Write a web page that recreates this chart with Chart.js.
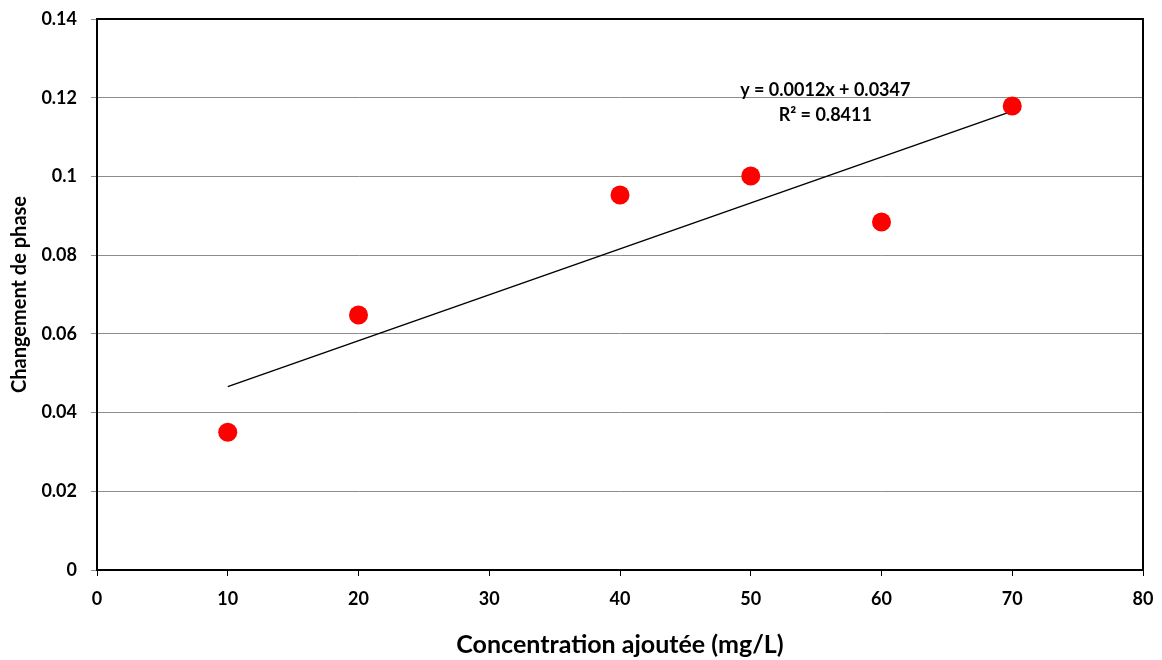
<!DOCTYPE html>
<html>
<head>
<meta charset="utf-8">
<script src="https://cdn.jsdelivr.net/npm/chart.js@4"></script>
<style>
html,body{margin:0;padding:0;background:#fff;}
#wrap{width:1162px;height:660px;position:relative;}
</style>
</head>
<body>
<div id="wrap"><canvas id="c" width="1162" height="660"></canvas></div>
<script>
const concentrations = [10, 20, 40, 50, 60, 70];
const phaseChange = [0.0350, 0.0648, 0.0953, 0.1001, 0.0884, 0.1179];
const trendX = [10, 70];
const trendY = [0.0466, 0.1166];
const equationText = "y = 0.0012x + 0.0347";
const r2Text = "R² = 0.8411";
const xTitle = "Concentration ajoutée (mg/L)";
const yTitle = "Changement de phase";

const FONT = "Lato, 'Liberation Sans', sans-serif";

const framePlugin = {
  id: 'frame',
  afterDraw(chart) {
    const {ctx, chartArea: a, scales} = chart;
    ctx.save();
    ctx.strokeStyle = '#000';
    ctx.lineWidth = 2;
    ctx.beginPath();
    ctx.moveTo(a.left, a.top);
    ctx.lineTo(a.right, a.top);
    ctx.lineTo(a.right, a.bottom);
    ctx.stroke();
    ctx.fillStyle = '#000';
    ctx.font = "bold 18px " + FONT;
    ctx.textAlign = 'center';
    ctx.textBaseline = 'middle';
    const tx = scales.x.getPixelForValue(55.7);
    ctx.fillText(equationText, tx, scales.y.getPixelForValue(0.1218));
    ctx.fillText(r2Text, tx, scales.y.getPixelForValue(0.1155));
    ctx.restore();
  }
};

new Chart(document.getElementById('c'), {
  type: 'scatter',
  data: {
    datasets: [
      {
        label: 'trend',
        data: trendX.map((x, i) => ({x, y: trendY[i]})),
        showLine: true,
        borderColor: '#000',
        borderWidth: 1.5,
        pointRadius: 0,
        order: 2
      },
      {
        label: 'data',
        data: concentrations.map((x, i) => ({x, y: phaseChange[i]})),
        backgroundColor: '#ff0000',
        borderColor: '#ff0000',
        borderWidth: 0,
        pointRadius: 9.5,
        order: 1
      }
    ]
  },
  options: {
    responsive: false,
    animation: false,
    layout: {padding: {top: 19, right: 19, left: 0, bottom: 0}},
    plugins: {legend: {display: false}, tooltip: {enabled: false}},
    scales: {
      x: {
        type: 'linear',
        min: 0, max: 80,
        ticks: {stepSize: 10, color: '#000', font: {family: FONT, size: 18, weight: 'bold'}, padding: 12},
        grid: {drawOnChartArea: false, drawTicks: true, tickLength: 6, color: '#000', lineWidth: 1},
        border: {color: '#000', width: 2},
        title: {display: true, text: xTitle, color: '#000', font: {family: FONT, size: 25, weight: 'bold'}, padding: {top: 0, bottom: 0}},
        afterFit(s) { s.height = 90; s.paddingLeft = 0; s.paddingRight = 0; }
      },
      y: {
        min: 0, max: 0.14,
        ticks: {stepSize: 0.02, color: '#000', font: {family: FONT, size: 18, weight: 'bold'}, padding: 14,
          callback: v => (Math.round(v * 100) / 100).toString()},
        grid: {color: '#8c8c8c', lineWidth: 1, tickLength: 6, drawTicks: true},
        border: {color: '#000', width: 2},
        title: {display: true, text: yTitle, color: '#000', font: {family: FONT, size: 20, weight: 'bold'}, padding: {top: 8, bottom: 0}},
        afterFit(s) { s.width = 97; s.paddingTop = 0; s.paddingBottom = 0; }
      }
    }
  },
  plugins: [framePlugin]
});
</script>
</body>
</html>
